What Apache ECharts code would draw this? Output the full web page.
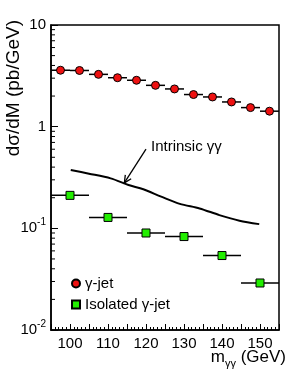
<!DOCTYPE html>
<html><head><meta charset="utf-8">
<script src="https://cdn.jsdelivr.net/npm/echarts@6/dist/echarts.min.js"></script>
<style>html,body{margin:0;padding:0;background:#fff}#c{width:305px;height:381px}</style>
</head><body><div id="c"></div>
<script>
// gamma-jet (5 GeV bins)
const gjX = [97.5,102.5,107.5,112.5,117.5,122.5,127.5,132.5,137.5,142.5,147.5,152.5];
const gjY = [3.59,3.57,3.27,3.03,2.86,2.55,2.35,2.07,1.96,1.75,1.54,1.42];
const gjErr = 2.5;
// isolated gamma-jet (10 GeV bins)
const isoX = [100,110,120,130,140,150];
const isoY = [0.211,0.128,0.090,0.083,0.054,0.029];
const isoErr = 5;
// intrinsic gamma-gamma curve
const curveX = [100.2,105,110.7,115.4,119.3,124,128.9,134.1,139.3,144.6,149.8];
const curveY = [0.375,0.345,0.31,0.267,0.242,0.205,0.174,0.157,0.135,0.119,0.110];
// annotation arrow (from label towards curve)
const arrowFrom = [120.0, 0.60];
const arrowTo = [114.3, 0.28];
const yTickValues = [0.01,0.1,1,10];
const xRange = [95,155];
const yRange = [0.01,10];

const FONT = '"Liberation Sans", Arial, Helvetica, sans-serif';
const minorY = [];
[0.01,0.1,1].forEach(d => { for (let k=2;k<=9;k++) minorY.push(d*k); });

function errItem(params, api){
  const x = api.value(0), y = api.value(1), e = api.value(2);
  const a = api.coord([x-e, y]), b = api.coord([x+e, y]);
  return {type:'line', shape:{x1:a[0],y1:a[1],x2:b[0],y2:b[1]}, style:{stroke:'#000', lineWidth:1.5}};
}

const chart = echarts.init(document.getElementById('c'), null, {renderer:'canvas'});
chart.setOption({
  animation:false,
  grid:{left:51,right:26,top:25,bottom:51,show:true,borderColor:'#000',borderWidth:1.5,backgroundColor:'transparent'},
  xAxis:{type:'value',min:xRange[0],max:xRange[1],interval:5,
    axisLine:{show:true,lineStyle:{color:'#000',width:1.5}},
    axisTick:{show:true,inside:true,length:6,lineStyle:{color:'#000'}},
    minorTick:{show:true,splitNumber:5,length:3,lineStyle:{color:'#000'}},
    splitLine:{show:false},
    axisLabel:{margin:6,color:'#000',fontSize:15,fontFamily:FONT,
      formatter:v => (Math.round(v)%10===0 && v>=100 && v<=150) ? String(Math.round(v)) : ''}
  },
  yAxis:{type:'log',logBase:10,min:yRange[0],max:yRange[1],
    axisLine:{show:true,lineStyle:{color:'#000',width:1.5}},
    axisTick:{show:true,inside:true,length:7,lineStyle:{color:'#000'}},
    splitLine:{show:false},
    axisLabel:{margin:5,color:'#000',fontSize:15,fontFamily:FONT,
      formatter:v => {
        const p = Math.round(Math.log10(v));
        if (p===1) return '10';
        if (p===0) return '1';
        return '10{sup|'+p+'}';
      },
      rich:{sup:{fontSize:10,fontFamily:FONT,color:'#000',verticalAlign:'top',padding:[0,0,12,0]}}
    }
  },
  legend:{left:66,top:271,orient:'vertical',itemWidth:8,itemHeight:8,itemGap:6,
    textStyle:{fontSize:15,fontFamily:FONT,color:'#000',lineHeight:15},
    data:[{name:'γ-jet',icon:'circle'},{name:'Isolated γ-jet',icon:'rect'}]},
  series:[
    {type:'custom',name:'minorY',renderItem:(params,api)=>{
        const p = api.coord([xRange[0], api.value(0)]);
        return {type:'line',shape:{x1:p[0],y1:p[1],x2:p[0]+4,y2:p[1]},style:{stroke:'#000',lineWidth:1}};
      }, data:minorY.map(v=>[v]), encode:{y:0}, clip:false, silent:true, z:1},
    {type:'custom',name:'gjErr',renderItem:errItem,data:gjX.map((x,i)=>[x,gjY[i],gjErr]),encode:{x:0,y:1},z:2,silent:true},
    {type:'custom',name:'isoErr',renderItem:errItem,data:isoX.map((x,i)=>[x,isoY[i],isoErr]),encode:{x:0,y:1},z:2,silent:true},
    {type:'line',name:'Intrinsic γγ',data:curveX.map((x,i)=>[x,curveY[i]]),smooth:0.3,showSymbol:false,symbol:'none',
      lineStyle:{color:'#000',width:2},z:3},
    {type:'scatter',name:'γ-jet',data:gjX.map((x,i)=>[x,gjY[i]]),symbol:'circle',symbolSize:8,
      itemStyle:{color:'#ee1111',borderColor:'#000',borderWidth:1,opacity:1},z:5},
    {type:'scatter',name:'Isolated γ-jet',data:isoX.map((x,i)=>[x,isoY[i]]),symbol:'rect',symbolSize:8,
      itemStyle:{color:'#22ee00',borderColor:'#000',borderWidth:1,opacity:1},z:5},
    {type:'custom',name:'arrow',renderItem:(params,api)=>{
        const a = api.coord([api.value(0),api.value(1)]), b = api.coord([api.value(2),api.value(3)]);
        const ang = Math.atan2(b[1]-a[1], b[0]-a[0]);
        const L = 8, w = 0.45;
        const h1 = [b[0]-L*Math.cos(ang-w), b[1]-L*Math.sin(ang-w)];
        const h2 = [b[0]-L*Math.cos(ang+w), b[1]-L*Math.sin(ang+w)];
        return {type:'group',children:[
          {type:'line',shape:{x1:a[0],y1:a[1],x2:b[0],y2:b[1]},style:{stroke:'#000',lineWidth:1.3}},
          {type:'polyline',shape:{points:[h1,b,h2]},style:{stroke:'#000',fill:null,lineWidth:1.3}}
        ]};
      }, data:[[arrowFrom[0],arrowFrom[1],arrowTo[0],arrowTo[1]]], encode:{x:[0,2],y:[1,3]}, silent:true, z:4}
  ],
  graphic:[
    {type:'text',x:151,y:147,style:{text:'Intrinsic γγ',font:'15px '+FONT,fill:'#000',textAlign:'left',textVerticalAlign:'middle'}},
    {type:'text',x:14,y:20,rotation:Math.PI/2,style:{text:'dσ/dM (pb/GeV)',font:'19px '+FONT,fill:'#000',textAlign:'right',textVerticalAlign:'middle'}},
    {type:'text',x:286,y:357,style:{text:'m{sub|γγ} (GeV)',font:'17px '+FONT,fill:'#000',textAlign:'right',textVerticalAlign:'middle',
      rich:{sub:{fontSize:11,fontFamily:FONT,fill:'#000',verticalAlign:'bottom',padding:[13,0,0,0]}}}}
  ]
});
</script></body></html>
